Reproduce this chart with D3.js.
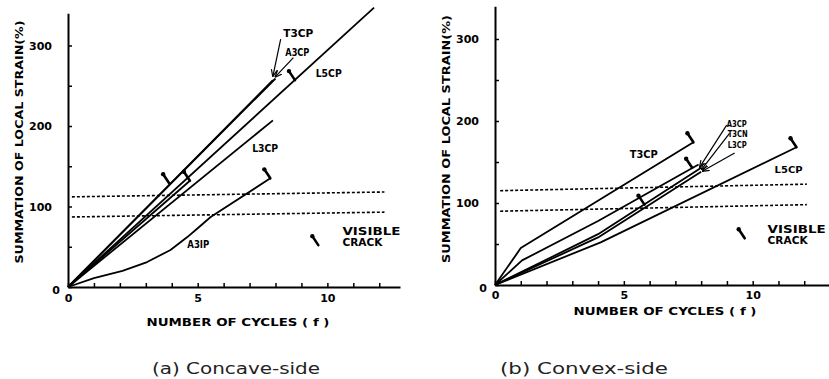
<!DOCTYPE html>
<html>
<head>
<meta charset="utf-8">
<script src="https://cdn.jsdelivr.net/npm/d3@7"></script>
<style>
  body { margin: 0; background: #fff; }
  text { font-family: "DejaVu Sans", sans-serif; }
</style>
</head>
<body>
<svg id="chart" width="829" height="379"></svg>
<script>
// ---- axes ----
const cycleTicks = d3.range(0, 13);
const cycleLabels = [0, 5, 10];
const strainTicks = [0, 50, 100, 150, 200, 250, 300];
const strainLabels = [0, 100, 200, 300];

// ---- (a) concave side : [cycles, strain %] ----
const aT3CP = [[0, 0], [7.9, 257]];
const aA3CP = [[0, 0], [8.0, 259]];
const aL5CP = [[0, 0], [11.8, 347]];
const aL3CP = [[0, 0], [7.9, 207]];
const aExtra = [[0, 0], [4.7, 132]];
const aA3IP = [[0, 0], [1.0, 11], [2.1, 20], [3.05, 31], [3.95, 46], [4.6, 62], [5.0, 73], [5.5, 87], [7.8, 135]];
const aDashed = [[[0.15, 112], [12.2, 118]], [[0.15, 87], [12.2, 93]]];
const aCracks = [[3.9, 129], [4.7, 132], [8.75, 257], [7.8, 135]];
const aLegendCrack = [9.65, 52];
const aLabelNames = ["T3CP", "A3CP", "L5CP", "L3CP", "A3IP"];
const aLabelPos = [[8.3, 310], [8.38, 287], [9.55, 261], [7.1, 168], [4.6, 48]];
const aLeaders = [[[8.2, 308], [7.9, 262]], [[8.69, 285], [7.99, 261]]];

// ---- (b) convex side ----
const bT3CP = [[0, 0], [1.0, 45], [7.7, 174]];
const bA3CP = [[0, 0], [1.05, 30], [4.0, 78], [7.9, 147]];
const bT3CN = [[0, 0], [4.0, 62], [8.0, 143]];
const bL3CP = [[0, 0], [4.0, 58], [8.0, 138]];
const bL5CP = [[0, 0], [4.1, 52], [11.7, 168]];
const bDashed = [[[0.2, 115], [12.1, 123]], [[0.2, 90], [12.1, 98]]];
const bCracks = [[7.7, 174], [11.7, 168], [7.65, 143], [5.8, 98]];
const bLegendCrack = [9.69, 57];
const bLabelNames = ["T3CP", "A3CP", "T3CN", "L3CP", "L5CP"];
const bLabelPos = [[5.23, 155], [8.99, 193], [9.03, 180], [9.03, 167], [10.85, 137]];
const bLeaders = [[[8.99, 195], [7.95, 144]], [[9.1, 185], [8.02, 141]], [[9.3, 161], [8.06, 139]]];

const svg = d3.select("#chart");
svg.append("rect").attr("width", 829).attr("height", 379).attr("fill", "#fff");

svg.append("defs").append("marker")
  .attr("id", "arrow")
  .attr("viewBox", "0 0 10 10")
  .attr("refX", 9).attr("refY", 5)
  .attr("markerWidth", 6).attr("markerHeight", 6)
  .attr("orient", "auto")
  .append("path").attr("d", "M0,1 L10,5 L0,9").attr("fill", "none").attr("stroke", "#000").attr("stroke-width", 1.6);

function drawPanel(p) {
  const x = d3.scaleLinear().domain([0, p.xMax]).range([p.left, p.right]);
  const y = d3.scaleLinear().domain([0, 340]).range([p.bottom, p.bottom - 340 * p.pxPerUnit]);
  const g = svg.append("g");

  // x axis, ticks pointing up
  const xa = g.append("g")
    .attr("transform", `translate(0,${p.bottom})`)
    .call(d3.axisBottom(x).tickValues(cycleTicks).tickSizeInner(-4).tickSizeOuter(0).tickPadding(p.xPad)
      .tickFormat(d => cycleLabels.includes(d) ? d : ""));
  // y axis, ticks pointing right
  const ya = g.append("g")
    .attr("transform", `translate(${p.left},0)`)
    .call(d3.axisLeft(y).tickValues(strainTicks).tickSizeInner(-4).tickSizeOuter(0).tickPadding(16)
      .tickFormat(d => strainLabels.includes(d) ? d : ""));
  [xa, ya].forEach(a => {
    a.attr("font-family", null).attr("font-size", null);
    a.select(".domain").attr("stroke", "#000").attr("stroke-width", 2);
    a.selectAll(".tick line").attr("stroke", "#000").attr("stroke-width", 1.5);
    a.selectAll(".tick text").attr("fill", "#000").attr("font-weight", "bold").attr("font-size", 11);
  });
  ya.selectAll(".tick text").filter(d => d === 0).attr("x", -8).attr("dy", "0.6em");

  // reference dashed lines
  g.selectAll(".dash").data(p.dashed).join("path")
    .attr("d", d3.line().x(d => x(d[0])).y(d => y(d[1])))
    .attr("fill", "none").attr("stroke", "#000").attr("stroke-width", 1.6)
    .attr("stroke-dasharray", "3,2");

  const line = d3.line().x(d => x(d[0])).y(d => y(d[1]));
  g.selectAll(".series").data(p.series).join("path")
    .attr("d", line)
    .attr("fill", "none").attr("stroke", "#000").attr("stroke-width", 1.8)
    .attr("stroke-linejoin", "round");

  // leader arrows
  g.selectAll(".leader").data(p.leaders).join("path")
    .attr("d", line)
    .attr("fill", "none").attr("stroke", "#000").attr("stroke-width", 1.2)
    .attr("marker-end", "url(#arrow)");

  // visible-crack marks
  const crack = (sel) => {
    sel.append("path")
      .attr("d", d => `M${x(d[0])},${y(d[1])} l-6,-9`)
      .attr("stroke", "#000").attr("stroke-width", 2.6).attr("stroke-linecap", "round");
    sel.append("circle")
      .attr("cx", d => x(d[0]) - 6).attr("cy", d => y(d[1]) - 9).attr("r", 2.2).attr("fill", "#000");
  };
  g.selectAll(".crack").data(p.cracks.concat([p.legendCrack])).join("g").call(crack);

  // series labels
  g.selectAll(".lbl").data(p.labelNames).join("text")
    .attr("x", (d, i) => x(p.labelPos[i][0]))
    .attr("y", (d, i) => y(p.labelPos[i][1]))
    .attr("font-size", (d, i) => p.labelSize[i])
    .attr("font-weight", "bold")
    .attr("textLength", (d, i) => p.labelLen[i])
    .attr("lengthAdjust", "spacingAndGlyphs")
    .text(d => d);

  // legend text
  g.append("text").attr("x", x(p.legendText[0])).attr("y", y(p.legendText[1]))
    .attr("font-size", 10).attr("font-weight", "bold")
    .attr("textLength", 58).attr("lengthAdjust", "spacingAndGlyphs").text("VISIBLE");
  g.append("text").attr("x", x(p.legendText[0])).attr("y", y(p.legendText[2]))
    .attr("font-size", 10).attr("font-weight", "bold")
    .attr("textLength", 40).attr("lengthAdjust", "spacingAndGlyphs").text("CRACK");

  // axis titles
  g.append("text")
    .attr("transform", `translate(${p.yTitleX},${p.yTitleY}) rotate(-90)`)
    .attr("text-anchor", "middle").attr("font-size", 10.5).attr("font-weight", "bold")
    .attr("textLength", p.yTitleLen).attr("lengthAdjust", "spacingAndGlyphs")
    .text("SUMMATION OF LOCAL STRAIN(%)");
  g.append("text")
    .attr("x", p.xTitleX).attr("y", p.xTitleY)
    .attr("text-anchor", "middle").attr("font-size", 11).attr("font-weight", "bold")
    .attr("textLength", 183).attr("lengthAdjust", "spacingAndGlyphs")
    .text("NUMBER OF CYCLES ( f )");

  // caption
  g.append("text")
    .attr("x", p.captionX).attr("y", 374)
    .attr("text-anchor", "middle").attr("font-size", 16).attr("fill", "#222")
    .attr("textLength", 168).attr("lengthAdjust", "spacingAndGlyphs")
    .text(p.caption);
}

drawPanel({
  left: 68, right: 400, xMax: 12.8, bottom: 287, pxPerUnit: 0.805, xPad: 7,
  series: [aT3CP, aA3CP, aL5CP, aL3CP, aExtra, aA3IP],
  dashed: aDashed, cracks: aCracks, legendCrack: aLegendCrack,
  labelNames: aLabelNames, labelPos: aLabelPos,
  labelSize: [10, 10, 10, 10, 10], labelLen: [30, 24, 26, 26, 22],
  leaders: aLeaders,
  legendText: [10.58, 64, 51],
  yTitleX: 23, yTitleY: 142, yTitleLen: 243,
  xTitleX: 238, xTitleY: 326,
  captionX: 236, caption: "(a) Concave-side"
});

drawPanel({
  left: 495, right: 830, xMax: 13, bottom: 285, pxPerUnit: 0.82, xPad: 6,
  series: [bT3CP, bA3CP, bT3CN, bL3CP, bL5CP],
  dashed: bDashed, cracks: bCracks, legendCrack: bLegendCrack,
  labelNames: bLabelNames, labelPos: bLabelPos,
  labelSize: [10, 8, 8, 8, 9], labelLen: [28, 20, 20, 19, 28],
  leaders: bLeaders,
  legendText: [10.58, 63, 50],
  yTitleX: 450, yTitleY: 139, yTitleLen: 248,
  xTitleX: 665, xTitleY: 315,
  captionX: 584, caption: "(b) Convex-side"
});
</script>
</body>
</html>
